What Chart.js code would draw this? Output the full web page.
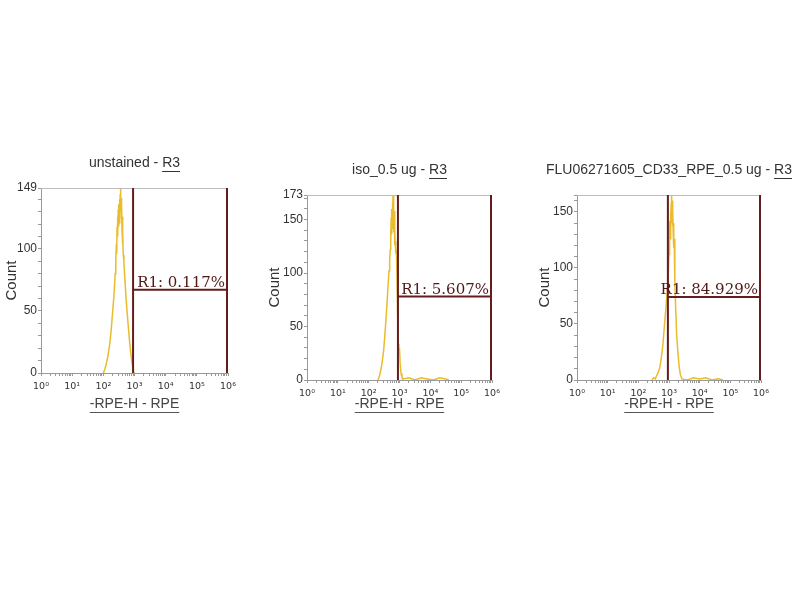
<!DOCTYPE html>
<html><head><meta charset="utf-8">
<script src="https://cdn.jsdelivr.net/npm/chart.js@4/dist/chart.umd.min.js"></script>
<style>
html,body{margin:0;padding:0;background:#fff;width:800px;height:600px;overflow:hidden;position:relative;}
canvas{position:absolute;}
</style></head><body>
<canvas id="c1" width="250" height="270" style="left:0px;top:150px;width:250px;height:270px"></canvas>
<canvas id="c2" width="250" height="270" style="left:260px;top:150px;width:250px;height:270px"></canvas>
<canvas id="c3" width="270" height="270" style="left:530px;top:150px;width:270px;height:270px"></canvas>
<script>
// ---- text ----
const panelTitles = ['unstained - ', 'iso_0.5 ug - ', 'FLU06271605_CD33_RPE_0.5 ug - '];
const regionName = 'R3';
const gateLabels = ['R1: 0.117%', 'R1: 5.607%', 'R1: 84.929%'];
const xAxisTitle = '-RPE-H - RPE';
const yAxisTitle = 'Count';
// ---- axes ----
const xTickValues = [1, 10, 100, 1000, 10000, 100000, 1000000];
const xTickLabels = ['10⁰', '10¹', '10²', '10³', '10⁴', '10⁵', '10⁶'];
const yMax = [149, 173, 165];
const yTickLabels1 = [0, 50, 100, 149];
const yTickLabels2 = [0, 50, 100, 150, 173];
const yTickLabels3 = [0, 50, 100, 150];
// ---- gates (R1) ----
const gateLow = [900, 890, 920];
const gateHigh = [1000000, 1000000, 1000000];
const gateCount = [67, 78, 74];
// ---- histograms ----
const unstainedX = [100,112,126,141,158,178,200,219,240,251,263,269,275,282,288,295,302,309,316,324,331,339,347,355,363,372,380,389,398,407,417,427,437,457,479,501,537,575,631,692,759,832,912,977];
const unstainedCount = [0,3,8,14,22,34,50,62,80,92,104,96,118,110,126,112,132,118,136,121,140,127,144,149,131,141,124,136,115,126,104,112,95,90,80,72,60,50,38,26,16,8,2,0];
const isoX = [200,224,251,275,302,331,363,398,427,457,479,501,513,525,537,550,562,575,589,603,617,631,646,661,676,692,708,724,759,794,832,871,912,955,1000,1047,1122,1202,1318,1995,3162,5012,7943,12589,19953,31623,39811];
const isoCount = [0,4,10,17,26,40,56,74,89,102,112,122,140,128,152,136,160,142,166,150,173,154,168,138,158,126,140,130,118,122,95,60,34,24,30,16,6,3,1,2,0,2,1,0,2,1,0];
const cd33X = [275,316,355,398,447,501,562,631,692,759,832,912,955,1000,1023,1047,1072,1096,1122,1148,1175,1202,1230,1259,1288,1318,1349,1380,1413,1445,1479,1549,1660,1778,1950,2138,2344,2630,3981,6310,10000,15849,25119,39811,57544];
const cd33Count = [0,2,1,4,7,11,20,31,45,58,72,85,98,112,130,118,142,126,150,134,158,140,165,146,160,138,152,128,140,118,126,88,62,40,25,12,5,1,0,2,1,2,0,1,0];

const FONT = '"Liberation Sans", Arial, sans-serif';
Chart.defaults.font.family = FONT;
Chart.defaults.color = '#333';

const decor = {
  id: 'decor',
  afterDatasetsDraw(chart, args, o) {
    const {ctx, chartArea: a, scales: {x, y}} = chart;
    ctx.save();
    // frame top
    ctx.strokeStyle = '#bdbdbd'; ctx.lineWidth = 1;
    ctx.beginPath(); ctx.moveTo(a.left, Math.round(a.top) + 0.5); ctx.lineTo(a.right, Math.round(a.top) + 0.5); ctx.stroke();
    // gate
    const xl = x.getPixelForValue(o.lo), xr = x.getPixelForValue(o.hi) - 1;
    const yg = y.getPixelForValue(o.count), y0 = y.getPixelForValue(0), yt = y.getPixelForValue(y.max);
    ctx.strokeStyle = '#661c1c'; ctx.lineWidth = 2;
    ctx.beginPath();
    ctx.moveTo(xl, y0); ctx.lineTo(xl, yt);
    ctx.moveTo(xr, y0); ctx.lineTo(xr, yt);
    ctx.moveTo(xl, yg); ctx.lineTo(xr, yg);
    ctx.stroke();
    ctx.font = '15px "DejaVu Serif", serif';
    ctx.fillStyle = '#521818'; ctx.textAlign = 'right'; ctx.textBaseline = 'alphabetic';
    ctx.fillText(o.label, xr - 2, yg - 3);
    // title with underlined region
    ctx.font = '14px ' + FONT;
    ctx.fillStyle = '#333'; ctx.textAlign = 'left'; ctx.textBaseline = 'middle';
    const w1 = ctx.measureText(o.title).width, w2 = ctx.measureText(regionName).width;
    const cx = (a.left + a.right) / 2, sx = cx - (w1 + w2) / 2, ty = a.top - 25;
    ctx.fillText(o.title, sx, ty);
    ctx.fillText(regionName, sx + w1, ty);
    ctx.strokeStyle = '#333'; ctx.lineWidth = 1;
    ctx.beginPath(); ctx.moveTo(sx + w1, ty + 8.5); ctx.lineTo(sx + w1 + w2, ty + 8.5); ctx.stroke();
    // underline x title
    const xw = ctx.measureText(xAxisTitle).width;
    const xcy = x.bottom - 16;
    ctx.strokeStyle = '#555';
    ctx.beginPath(); ctx.moveTo(cx - xw / 2, xcy + 8.5); ctx.lineTo(cx + xw / 2, xcy + 8.5); ctx.stroke();
    ctx.restore();
  }
};

function makeChart(id, idx, xs, counts, yLabels, pad, yW, xH, yTitlePad) {
  new Chart(document.getElementById(id), {
    type: 'line',
    data: { datasets: [{
      data: xs.map((v, i) => ({x: v, y: counts[i]})),
      borderColor: 'rgb(234,188,44)', borderWidth: 1.5, pointRadius: 0, tension: 0, fill: false
    }]},
    options: {
      responsive: false, animation: false,
      layout: { padding: pad },
      plugins: {
        legend: {display: false}, tooltip: {enabled: false}, title: {display: false},
        decor: {lo: gateLow[idx], hi: gateHigh[idx], count: gateCount[idx], label: gateLabels[idx], title: panelTitles[idx]}
      },
      scales: {
        x: {
          type: 'logarithmic', min: 1, max: 1000000,
          afterFit(s) { s.height = xH; },
          afterBuildTicks(s) {
            const t = [];
            xTickValues.forEach((d, k) => {
              t.push({value: d, major: true});
              if (k < xTickValues.length - 1) for (let m = 2; m <= 9; m++) t.push({value: d * m});
            });
            s.ticks = t;
          },
          ticks: {
            autoSkip: false, maxRotation: 0, minRotation: 0, padding: 5,
            font: {size: 9.5, family: '"DejaVu Sans", sans-serif'}, color: '#333',
            callback(v) { const k = xTickValues.indexOf(v); return k >= 0 ? xTickLabels[k] : ''; }
          },
          grid: {drawOnChartArea: false, tickLength: 3, color: '#999'},
          border: {color: '#999'},
          title: {display: true, text: xAxisTitle, font: {size: 14}, color: '#444', padding: {top: 0, bottom: 7.6}}
        },
        y: {
          type: 'linear', min: 0, max: yMax[idx],
          afterFit(s) { s.width = yW; },
          afterBuildTicks(s) {
            const t = [];
            for (let v = 0; v < yMax[idx]; v += 10) t.push({value: v});
            t.push({value: yMax[idx]});
            s.ticks = t;
          },
          ticks: {
            autoSkip: false, padding: 1, font: {size: 12}, color: '#333',
            callback(v) { return yLabels.includes(v) ? String(v) : ''; }
          },
          grid: {drawOnChartArea: false, tickLength: 3, color: '#999'},
          border: {color: '#999'},
          title: {display: true, text: yAxisTitle, font: {size: 15}, color: '#333', padding: {top: yTitlePad, bottom: 0}}
        }
      }
    },
    plugins: [decor]
  });
}

makeChart('c1', 0, unstainedX, unstainedCount, yTickLabels1, {left: 0, top: 38, right: 22, bottom: 0}, 41, 47, 3);
makeChart('c2', 1, isoX, isoCount, yTickLabels2, {left: 0, top: 45, right: 18, bottom: 0}, 47, 40, 6);
makeChart('c3', 2, cd33X, cd33Count, yTickLabels3, {left: 0, top: 45, right: 39, bottom: 0}, 47, 40, 6);
</script>
</body></html>
